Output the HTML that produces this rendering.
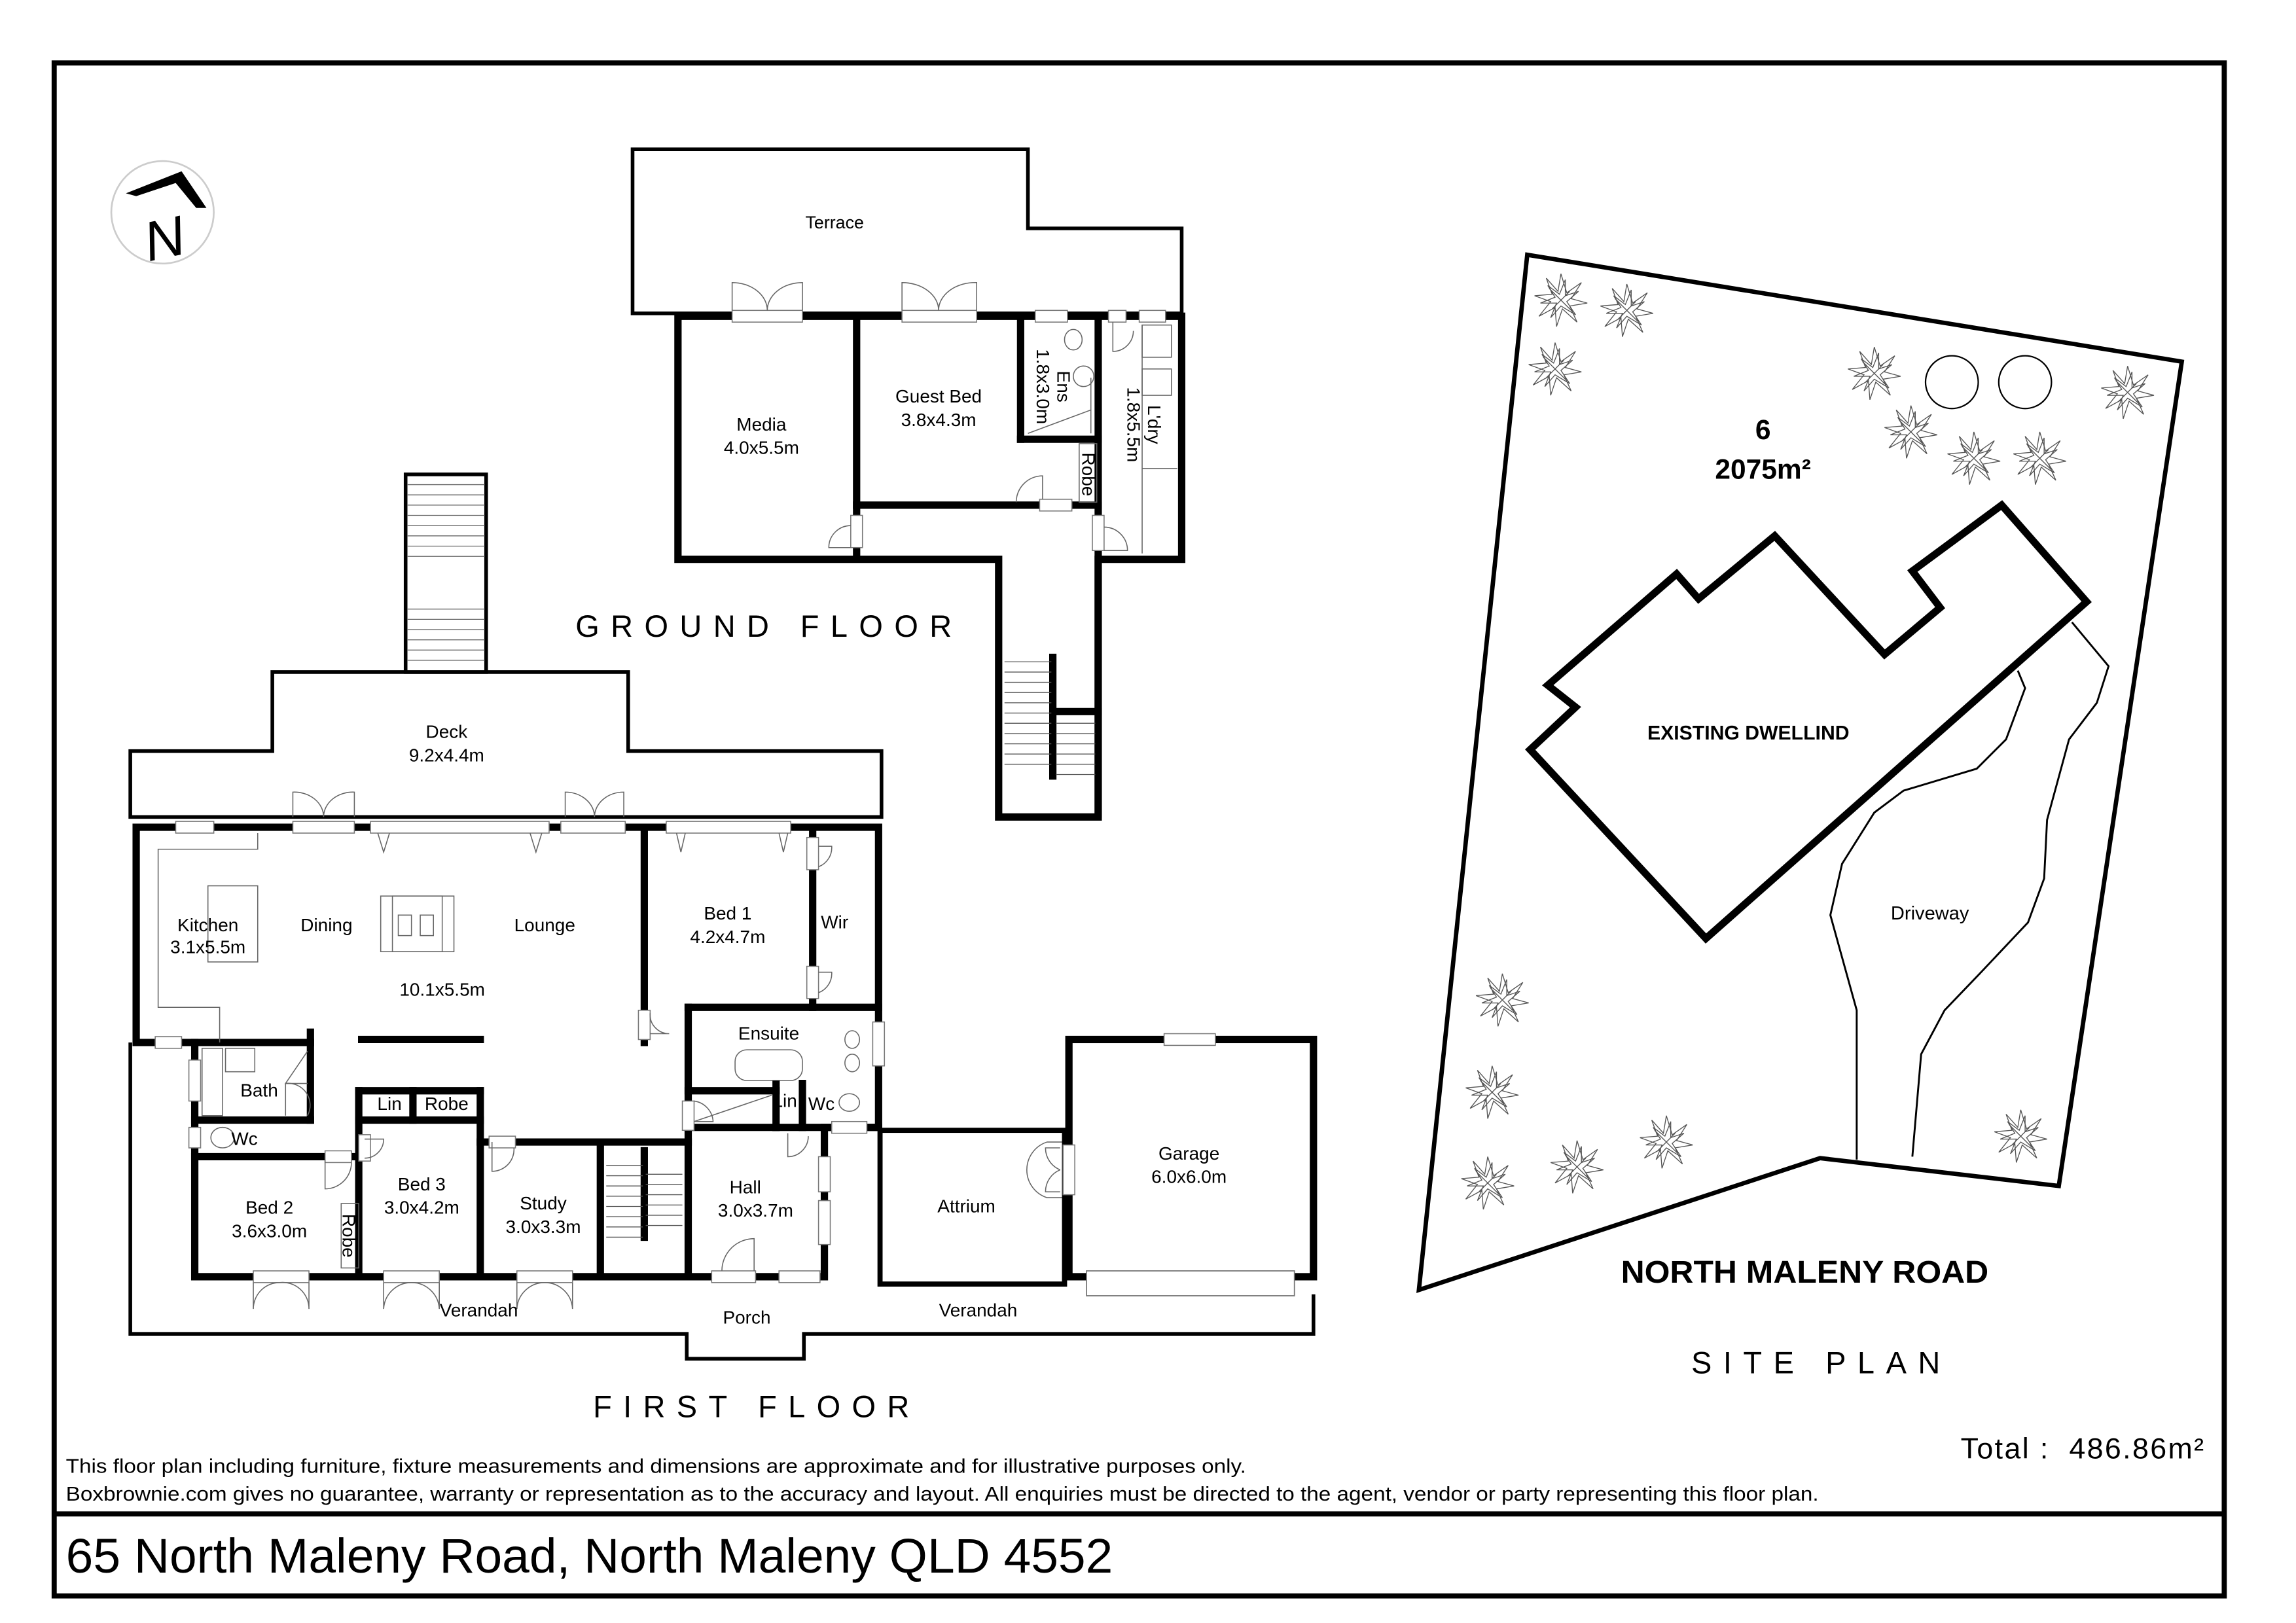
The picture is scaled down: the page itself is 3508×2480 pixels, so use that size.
<!DOCTYPE html>
<html><head><meta charset="utf-8"><style>
html,body{margin:0;padding:0;background:#fff}
svg{display:block}
text{font-family:"Liberation Sans",sans-serif;fill:#000}
</style></head><body>
<svg width="3508" height="2480" viewBox="0 0 1568 1108.5" preserveAspectRatio="none" xmlns="http://www.w3.org/2000/svg">
<defs>
<g id="tree" fill="none" stroke="#555" stroke-width="0.6">
<polygon points="0,-18 4,-5 14,-12 7,-1 18,2 6,4 11,15 1,6 -3,18 -4,5 -15,11 -7,1 -18,-3 -6,-4 -10,-15 -2,-6"/>
<polygon points="3,-14 3,-3 12,-6 4,1 10,10 0,4 -7,12 -3,2 -14,2 -4,-2 -9,-10 -1,-4"/>
<line x1="-8" y1="-8" x2="8" y2="8"/><line x1="-6" y1="6" x2="6" y2="-6"/>
</g>
</defs>
<rect x="0" y="0" width="1568" height="1109" fill="#fff"/>
<rect x="37" y="43" width="1482" height="1047" fill="none" stroke="#000" stroke-width="3.5"/>
<line x1="37" y1="1034" x2="1519" y2="1034" stroke="#000" stroke-width="3.5"/>
<circle cx="111" cy="145" r="35" fill="#fff" stroke="#ccc" stroke-width="1.2"/>
<polygon points="86,132 124,117 141,142 134,142 120,125 93,134" fill="#000"/>
<text x="112" y="176" font-family="Liberation Serif,serif" font-size="38" font-style="italic" transform="rotate(-12 112 162)" text-anchor="middle">N</text>

<polygon points="432,102 702,102 702,156 807,156 807,214 432,214" fill="none" stroke="#000" stroke-width="2.5"/>
<g fill="none" stroke="#000" stroke-width="5" stroke-linecap="square">
<polygon points="463,216 807,216 807,382 750,382 750,558 682,558 682,382 463,382"/>
<line x1="585" y1="216" x2="585" y2="350"/>
<line x1="585" y1="374" x2="585" y2="380"/>
<line x1="585" y1="345" x2="710" y2="345"/>
<line x1="732" y1="345" x2="750" y2="345"/>
<line x1="697" y1="216" x2="697" y2="300"/>
<line x1="697" y1="300" x2="750" y2="300"/>
<line x1="750" y1="216" x2="750" y2="352"/>
<line x1="750" y1="376" x2="750" y2="556"/>
<line x1="719" y1="449" x2="719" y2="530"/>
<line x1="719" y1="486" x2="750" y2="486"/>
</g>
<g fill="#fff" stroke="#777" stroke-width="0.7">
<rect x="500" y="212" width="48" height="8"/><rect x="616" y="212" width="51" height="8"/>
<rect x="707" y="212" width="22" height="8"/><rect x="757" y="212" width="12" height="8"/><rect x="778" y="212" width="18" height="8"/>
<rect x="581" y="352" width="8" height="22"/><rect x="746" y="352" width="8" height="24"/><rect x="710" y="341" width="22" height="8"/>
</g>
<g fill="none" stroke="#666" stroke-width="0.7">
<path d="M500,212 V193 A24,19 0 0 1 524,212 M548,212 V193 A24,19 0 0 0 524,212"/>
<path d="M616,212 V193 A25,19 0 0 1 641,212 M667,212 V193 A25,19 0 0 0 641,212"/>
<path d="M581,374 H566 A15,15 0 0 1 581,359"/>
<path d="M754,376 H770 A16,16 0 0 0 754,360"/>
<path d="M712,341 V325 A18,18 0 0 0 694,343"/>
<rect x="737" y="303" width="12" height="40"/>
<rect x="780" y="222" width="20" height="22"/><rect x="780" y="252" width="20" height="18"/>
<line x1="780" y1="222" x2="780" y2="378"/><line x1="780" y1="320" x2="804" y2="320"/>
<ellipse cx="733" cy="232" rx="6" ry="7"/><ellipse cx="740" cy="257" rx="7" ry="7"/>
<path d="M702,296 L745,280"/><path d="M745,258 L745,296"/>
<path d="M760,220 V240 A14,14 0 0 0 774,226"/>
</g>
<g stroke="#555" stroke-width="0.6">
<line x1="686" y1="452" x2="718" y2="452"/><line x1="686" y1="459" x2="718" y2="459"/><line x1="686" y1="466" x2="718" y2="466"/><line x1="686" y1="473" x2="718" y2="473"/><line x1="686" y1="480" x2="718" y2="480"/><line x1="686" y1="487" x2="718" y2="487"/><line x1="686" y1="494" x2="718" y2="494"/><line x1="686" y1="501" x2="718" y2="501"/><line x1="686" y1="508" x2="718" y2="508"/><line x1="686" y1="515" x2="718" y2="515"/><line x1="686" y1="522" x2="718" y2="522"/>
<line x1="721" y1="494" x2="748" y2="494"/><line x1="721" y1="501" x2="748" y2="501"/><line x1="721" y1="508" x2="748" y2="508"/><line x1="721" y1="515" x2="748" y2="515"/><line x1="721" y1="522" x2="748" y2="522"/><line x1="721" y1="529" x2="748" y2="529"/>
</g>
<text x="570" y="156" font-size="12" text-anchor="middle">Terrace</text>
<text x="520" y="294" font-size="12.5" text-anchor="middle">Media</text>
<text x="520" y="310" font-size="12.5" text-anchor="middle">4.0x5.5m</text>
<text x="641" y="275" font-size="12.5" text-anchor="middle">Guest Bed</text>
<text x="641" y="291" font-size="12.5" text-anchor="middle">3.8x4.3m</text>
<text font-size="12.5" text-anchor="middle" transform="translate(714,264) rotate(90)"><tspan x="0" y="-8">Ens</tspan><tspan x="0" y="6">1.8x3.0m</tspan></text>
<text font-size="12.5" text-anchor="middle" transform="translate(776,290) rotate(90)"><tspan x="0" y="-8">L'dry</tspan><tspan x="0" y="6">1.8x5.5m</tspan></text>
<text font-size="12.5" text-anchor="middle" transform="translate(739,324) rotate(90)">Robe</text>
<text x="393" y="435" font-size="21" textLength="257" lengthAdjust="spacing">GROUND FLOOR</text>

<polygon points="186,459 429,459 429,513 602,513 602,558 89,558 89,513 186,513" fill="none" stroke="#000" stroke-width="2.5"/>
<rect x="277" y="324" width="55" height="135" fill="#fff" stroke="#000" stroke-width="2.5"/>
<g stroke="#666" stroke-width="0.6">
<line x1="278" y1="331" x2="331" y2="331"/><line x1="278" y1="338" x2="331" y2="338"/><line x1="278" y1="345" x2="331" y2="345"/><line x1="278" y1="352" x2="331" y2="352"/><line x1="278" y1="359" x2="331" y2="359"/><line x1="278" y1="366" x2="331" y2="366"/><line x1="278" y1="373" x2="331" y2="373"/><line x1="278" y1="380" x2="331" y2="380"/>
<line x1="278" y1="416" x2="331" y2="416"/><line x1="278" y1="423" x2="331" y2="423"/><line x1="278" y1="430" x2="331" y2="430"/><line x1="278" y1="437" x2="331" y2="437"/><line x1="278" y1="444" x2="331" y2="444"/><line x1="278" y1="451" x2="331" y2="451"/>
</g>
<polyline points="89,712 89,911 469,911 469,928 549,928 549,911 897,911 897,884" fill="none" stroke="#000" stroke-width="2.5"/>
<g fill="none" stroke="#000" stroke-width="5" stroke-linecap="square">
<polygon points="93,565 600,565 600,770 563,770 563,872 133,872 133,712 93,712"/>
<line x1="440" y1="565" x2="440" y2="712"/>
<line x1="555" y1="565" x2="555" y2="688"/>
<line x1="470" y1="688" x2="600" y2="688"/>
<line x1="470" y1="688" x2="470" y2="770"/>
<line x1="470" y1="745" x2="530" y2="745"/>
<line x1="530" y1="770" x2="600" y2="770"/>
<line x1="530" y1="740" x2="530" y2="770"/><line x1="548" y1="740" x2="548" y2="770"/>
<line x1="133" y1="712" x2="212" y2="712"/>
<line x1="212" y1="705" x2="212" y2="765"/>
<line x1="133" y1="765" x2="212" y2="765"/>
<line x1="133" y1="790" x2="245" y2="790"/>
<line x1="245" y1="745" x2="245" y2="872"/>
<line x1="245" y1="745" x2="328" y2="745"/>
<line x1="282" y1="745" x2="282" y2="765"/>
<line x1="245" y1="765" x2="328" y2="765"/>
<line x1="328" y1="745" x2="328" y2="872"/>
<line x1="328" y1="780" x2="410" y2="780"/>
<line x1="410" y1="780" x2="410" y2="872"/>
<line x1="410" y1="780" x2="470" y2="780"/>
<line x1="440" y1="786" x2="440" y2="845"/>
<line x1="470" y1="770" x2="470" y2="872"/>
<line x1="470" y1="770" x2="530" y2="770"/>
<line x1="247" y1="710" x2="328" y2="710"/>
</g>
<g fill="#fff" stroke="#777" stroke-width="0.7">
<rect x="120" y="561" width="26" height="8"/><rect x="200" y="561" width="42" height="8"/><rect x="253" y="561" width="122" height="8"/><rect x="383" y="561" width="44" height="8"/><rect x="455" y="561" width="85" height="8"/>
<rect x="106" y="708" width="18" height="8"/><rect x="129" y="724" width="8" height="28"/><rect x="129" y="770" width="8" height="14"/>
<rect x="173" y="868" width="38" height="8"/><rect x="262" y="868" width="38" height="8"/><rect x="353" y="868" width="38" height="8"/><rect x="486" y="868" width="30" height="8"/><rect x="532" y="868" width="28" height="8"/>
<rect x="559" y="790" width="8" height="24"/><rect x="559" y="820" width="8" height="30"/>
<rect x="596" y="698" width="8" height="30"/><rect x="568" y="766" width="24" height="8"/>
<rect x="436" y="690" width="8" height="20"/><rect x="466" y="752" width="8" height="20"/>
<rect x="222" y="786" width="18" height="8"/><rect x="245" y="775" width="8" height="18"/><rect x="334" y="776" width="18" height="8"/>
<rect x="551" y="572" width="8" height="22"/><rect x="551" y="660" width="8" height="22"/>
</g>
<g fill="none" stroke="#666" stroke-width="0.7">
<path d="M200,558 V541 A20,17 0 0 1 221,558 M242,558 V541 A20,17 0 0 0 221,558"/>
<path d="M386,558 V541 A20,17 0 0 1 406,558 M426,558 V541 A20,17 0 0 0 406,558"/>
<path d="M258,569 L262,582 L266,569 M370,569 L366,582 L362,569 M462,569 L465,582 L468,569 M538,569 L535,582 L532,569"/>
<polyline points="176,569 176,580 108,580 108,688 150,688 150,712"/>
<rect x="142" y="605" width="34" height="52"/>
<rect x="260" y="612" width="50" height="38"/><rect x="268" y="612" width="34" height="38"/>
<rect x="272" y="625" width="9" height="14"/><rect x="287" y="625" width="9" height="14"/>
<rect x="138" y="716" width="14" height="46"/><rect x="154" y="716" width="20" height="16"/>
<path d="M210,718 L195,740 L210,740"/>
<path d="M195,762 V740 A15,15 0 0 1 210,762"/>
<ellipse cx="152" cy="777" rx="8" ry="7"/>
<path d="M222,792 V812 A18,18 0 0 0 240,794"/>
<path d="M249,778 H262 A13,13 0 0 1 249,791"/>
<path d="M336,780 V800 A15,15 0 0 0 351,784"/>
<path d="M559,578 H568 A14,14 0 0 1 559,592 M559,664 H568 A14,14 0 0 1 559,678"/>
<path d="M444,706 H457 A13,13 0 0 1 444,692"/>
<path d="M474,766 H487 A15,15 0 0 0 474,752"/>
<rect x="502" y="717" width="46" height="21" rx="8"/>
<line x1="474" y1="766" x2="527" y2="748"/>
<path d="M515,868 V846 A22,22 0 0 0 493,868"/>
<path d="M538,774 V790 A14,14 0 0 0 552,776"/>
<path d="M173,876 V894 A18,18 0 0 1 191,876 M211,876 V894 A18,18 0 0 0 191,876"/>
<path d="M262,876 V894 A19,19 0 0 1 281,876 M300,876 V894 A19,19 0 0 0 281,876"/>
<path d="M353,876 V894 A19,19 0 0 1 372,876 M391,876 V894 A19,19 0 0 0 372,876"/>
<ellipse cx="582" cy="710" rx="5" ry="6"/><ellipse cx="582" cy="726" rx="5" ry="6"/>
<ellipse cx="580" cy="753" rx="7" ry="6"/>
<rect x="233" y="822" width="12" height="44"/>
<path d="M715,780 H726 V818 H715 A20,20 0 0 1 715,780"/>
</g>
<g stroke="#555" stroke-width="0.6">
<line x1="414" y1="796" x2="439" y2="796"/><line x1="414" y1="803" x2="439" y2="803"/><line x1="414" y1="810" x2="439" y2="810"/><line x1="414" y1="817" x2="439" y2="817"/><line x1="414" y1="824" x2="439" y2="824"/><line x1="414" y1="831" x2="439" y2="831"/><line x1="414" y1="838" x2="439" y2="838"/><line x1="414" y1="845" x2="439" y2="845"/>
<line x1="441" y1="802" x2="466" y2="802"/><line x1="441" y1="809" x2="466" y2="809"/><line x1="441" y1="816" x2="466" y2="816"/><line x1="441" y1="823" x2="466" y2="823"/><line x1="441" y1="830" x2="466" y2="830"/><line x1="441" y1="837" x2="466" y2="837"/>
</g>
<rect x="601" y="772" width="126" height="105" fill="none" stroke="#000" stroke-width="3.5"/>
<rect x="730" y="710" width="167" height="162" fill="none" stroke="#000" stroke-width="5"/>
<rect x="795" y="706" width="35" height="8" fill="#fff" stroke="#777" stroke-width="0.7"/>
<rect x="726" y="782" width="8" height="34" fill="#fff" stroke="#777" stroke-width="0.7"/>
<rect x="742" y="868" width="142" height="17" fill="#fff" stroke="#777" stroke-width="0.8"/>
<path d="M724,784 H714 A16,16 0 0 0 724,799 M724,814 H714 A16,16 0 0 1 724,799" fill="none" stroke="#666" stroke-width="0.7"/>

<g font-size="12.5" text-anchor="middle">
<text x="305" y="504">Deck</text><text x="305" y="520">9.2x4.4m</text>
<text x="142" y="636">Kitchen</text><text x="142" y="651">3.1x5.5m</text>
<text x="223" y="636">Dining</text>
<text x="372" y="636">Lounge</text>
<text x="302" y="680">10.1x5.5m</text>
<text x="497" y="628">Bed 1</text><text x="497" y="644">4.2x4.7m</text>
<text x="570" y="634">Wir</text>
<text x="525" y="710">Ensuite</text>
<text x="177" y="749">Bath</text>
<text x="167" y="782">Wc</text>
<text x="266" y="758">Lin</text><text x="305" y="758">Robe</text>
<text x="536" y="756">Lin</text><text x="561" y="758">Wc</text>
<text x="184" y="829">Bed 2</text><text x="184" y="845">3.6x3.0m</text>
<text x="288" y="813">Bed 3</text><text x="288" y="829">3.0x4.2m</text>
<text x="371" y="826">Study</text><text x="371" y="842">3.0x3.3m</text>
<text x="509" y="815">Hall</text><text x="516" y="831">3.0x3.7m</text>
<text x="660" y="828">Attrium</text>
<text x="812" y="792">Garage</text><text x="812" y="808">6.0x6.0m</text>
<text x="327" y="899">Verandah</text>
<text x="510" y="904">Porch</text>
<text x="668" y="899">Verandah</text>
</g>
<text font-size="12.5" text-anchor="middle" transform="translate(238,844) rotate(90)" y="4">Robe</text>
<text x="405" y="968" font-size="21" textLength="216" lengthAdjust="spacing">FIRST FLOOR</text>

<polygon points="1043,174 1490,247 1406,810 1243,791 969,881" fill="none" stroke="#000" stroke-width="3"/>
<polygon points="1057,468 1076,483 1045,512 1165,641 1425,411 1367,345 1306,390 1325,415 1287,447 1212,366 1160,409 1145,392" fill="none" stroke="#000" stroke-width="5"/>
<polyline points="1378,458 1383,470 1370,505 1350,525 1300,540 1280,555 1258,590 1250,625 1268,690 1268,792" fill="none" stroke="#000" stroke-width="1.3"/>
<polyline points="1415,425 1440,455 1432,480 1413,505 1398,560 1396,600 1385,630 1352,665 1328,690 1312,720 1306,790" fill="none" stroke="#000" stroke-width="1.3"/>
<circle cx="1333" cy="261" r="18" fill="none" stroke="#000" stroke-width="1"/>
<circle cx="1383" cy="261" r="18" fill="none" stroke="#000" stroke-width="1"/>
<use href="#tree" x="1066" y="205"/><use href="#tree" x="1111" y="212"/><use href="#tree" x="1062" y="252"/>
<use href="#tree" x="1280" y="255"/><use href="#tree" x="1305" y="295"/><use href="#tree" x="1348" y="313"/><use href="#tree" x="1393" y="313"/><use href="#tree" x="1453" y="268"/>
<use href="#tree" x="1026" y="683"/><use href="#tree" x="1019" y="746"/><use href="#tree" x="1016" y="808"/><use href="#tree" x="1077" y="797"/><use href="#tree" x="1138" y="780"/><use href="#tree" x="1380" y="776"/>
<text x="1204" y="300" font-size="19" font-weight="bold" text-anchor="middle">6</text>
<text x="1204" y="327" font-size="19" font-weight="bold" text-anchor="middle">2075m²</text>
<text x="1194" y="505" font-size="13.5" font-weight="bold" text-anchor="middle">EXISTING DWELLIND</text>
<text x="1318" y="628" font-size="13" text-anchor="middle">Driveway</text>
<text x="1107" y="876" font-size="21.5" font-weight="bold" textLength="251" lengthAdjust="spacingAndGlyphs">NORTH MALENY ROAD</text>
<text x="1155" y="938" font-size="21" textLength="170" lengthAdjust="spacing">SITE PLAN</text>

<text x="1339" y="996" font-size="20" textLength="166" lengthAdjust="spacing" xml:space="preserve">Total :  486.86m²</text>
<text x="45" y="1006" font-size="13.5" textLength="806" lengthAdjust="spacingAndGlyphs">This floor plan including furniture, fixture measurements and dimensions are approximate and for illustrative purposes only.</text>
<text x="45" y="1025" font-size="13.5" textLength="1197" lengthAdjust="spacingAndGlyphs">Boxbrownie.com gives no guarantee, warranty or representation as to the accuracy and layout. All enquiries must be directed to the agent, vendor or party representing this floor plan.</text>
<text x="45" y="1074" font-size="33" textLength="715" lengthAdjust="spacingAndGlyphs">65 North Maleny Road, North Maleny QLD 4552</text>
</svg>
</body></html>
